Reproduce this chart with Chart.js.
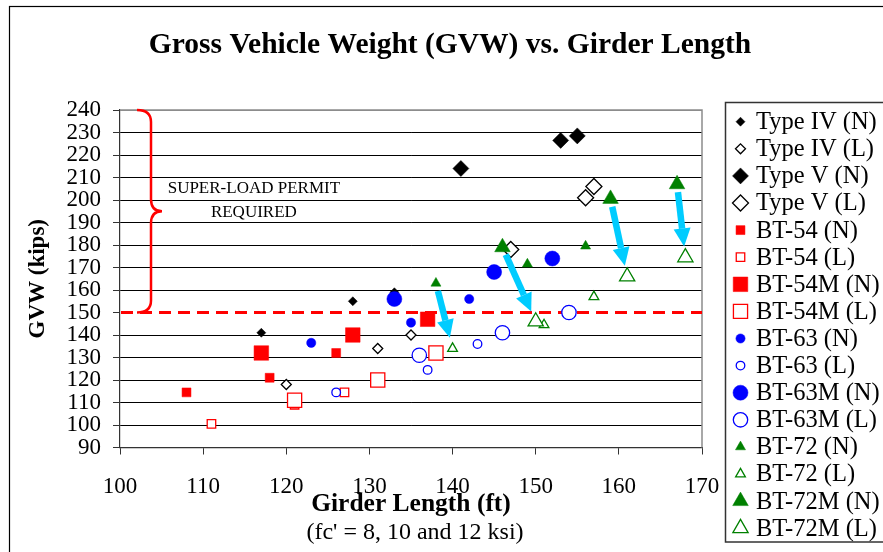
<!DOCTYPE html>
<html>
<head>
<meta charset="utf-8">
<script src="https://cdn.jsdelivr.net/npm/chart.js@4.4.1/dist/chart.umd.min.js"></script>
<style>
  body { margin: 0; background: #fff; }
  #wrap { width: 883px; height: 552px; }
</style>
</head>
<body>
<div id="wrap"><canvas id="myChart" width="883" height="552"></canvas></div>
<script>
// girder length (ft), GVW (kips)
const typeIV_N = [[117, 141], [128, 155], [133, 159]];
const typeIV_L = [[120, 118], [131, 134], [135, 140]];
const typeV_N = [[141, 214], [153, 226.5], [155, 228.5]];
const typeV_L = [[147, 178], [156, 201], [157, 206]];
const bt54_N = [[108, 114.5], [118, 121], [126, 132]];
const bt54_L = [[111, 100.5], [121, 109], [127, 114.5]];
const bt54M_N = [[117, 132], [128, 140], [137, 147]];
const bt54M_L = [[121, 111], [131, 120], [138, 132]];
const bt63_N = [[123, 136.5], [135, 145.5], [142, 156]];
const bt63_L = [[126, 114.5], [137, 124.5], [143, 136]];
const bt63M_N = [[133, 156], [145, 168], [152, 174]];
const bt63M_L = [[136, 131], [146, 141], [154, 150]];
const bt72_N = [[138, 163], [149, 171.5], [156, 179.5]];
const bt72_L = [[140, 134], [151, 144.5], [157, 157]];
const bt72M_N = [[146, 179], [159, 200.5], [167, 207]];
const bt72M_L = [[150, 146], [161, 166], [168, 174.5]];

const permitLimit = 150;
const xTicks = [100, 170, 10];
const yTicks = [90, 240, 10];

// from (N) series point -> (L) series point
const arrows = [
  ["BT-72 (N)", "BT-72 (L)", 0],
  ["BT-72M (N)", "BT-72M (L)", 0],
  ["BT-72M (N)", "BT-72M (L)", 1],
  ["BT-72M (N)", "BT-72M (L)", 2]
];

const FONT = "'Liberation Serif', 'Times New Roman', serif";
Chart.defaults.color = "#000";
Chart.defaults.font.family = FONT;

function makeSet(label, pts, color, style, r, filled) {
  return {
    label: label,
    data: pts.map(p => ({x: p[0], y: p[1]})),
    pointStyle: style,
    pointRadius: r,
    pointHoverRadius: r,
    borderColor: color,
    backgroundColor: filled ? color : "#fff",
    pointBorderWidth: filled ? 0.5 : 1.3,
    showLine: false
  };
}

const datasets = [
  makeSet("Type IV (N)", typeIV_N, "#000", "rectRot", 4.5, true),
  makeSet("Type IV (L)", typeIV_L, "#000", "rectRot", 5, false),
  makeSet("Type V (N)", typeV_N, "#000", "rectRot", 8, true),
  makeSet("Type V (L)", typeV_L, "#000", "rectRot", 8, false),
  makeSet("BT-54 (N)", bt54_N, "#ff0000", "rect", 6.3, true),
  makeSet("BT-54 (L)", bt54_L, "#ff0000", "rect", 6, false),
  makeSet("BT-54M (N)", bt54M_N, "#ff0000", "rect", 10.3, true),
  makeSet("BT-54M (L)", bt54M_L, "#ff0000", "rect", 10, false),
  makeSet("BT-63 (N)", bt63_N, "#0000ff", "circle", 4.6, true),
  makeSet("BT-63 (L)", bt63_L, "#0000ff", "circle", 4.3, false),
  makeSet("BT-63M (N)", bt63M_N, "#0000ff", "circle", 7.5, true),
  makeSet("BT-63M (L)", bt63M_L, "#0000ff", "circle", 7.2, false),
  makeSet("BT-72 (N)", bt72_N, "#008000", "triangle", 5.8, true),
  makeSet("BT-72 (L)", bt72_L, "#008000", "triangle", 5.6, false),
  makeSet("BT-72M (N)", bt72M_N, "#008000", "triangle", 9, true),
  makeSet("BT-72M (L)", bt72M_L, "#008000", "triangle", 8.8, false)
];
// later series drawn on top, like the original
datasets.forEach((d, i) => { d.order = datasets.length - i; });

const decorations = {
  id: "decorations",
  beforeDraw(chart) {
    const ctx = chart.ctx;
    ctx.save();
    ctx.fillStyle = "#fff";
    ctx.fillRect(0, 0, chart.width, chart.height);
    ctx.restore();
  },
  beforeDatasetsDraw(chart) {
    const {ctx, chartArea: a, scales: {x, y}} = chart;
    ctx.save();
    // plot frame top/right
    ctx.strokeStyle = "#8c8c8c";
    ctx.lineWidth = 1.5;
    ctx.beginPath();
    ctx.moveTo(a.left, a.top);
    ctx.lineTo(a.right, a.top);
    ctx.lineTo(a.right, a.bottom);
    ctx.stroke();

    // permit limit
    const yl = y.getPixelForValue(permitLimit);
    ctx.strokeStyle = "#ff0000";
    ctx.lineWidth = 3;
    ctx.setLineDash([12, 7]);
    ctx.beginPath();
    ctx.moveTo(a.left + 1, yl);
    ctx.lineTo(a.right, yl);
    ctx.stroke();
    ctx.setLineDash([]);

    // brace
    const yt = y.getPixelForValue(yTicks[1]);
    const ym = (yt + yl) / 2;
    const x0 = a.left + 17, x1 = a.left + 31, xt = a.left + 42;
    ctx.lineWidth = 2.5;
    ctx.beginPath();
    ctx.moveTo(x0, yt);
    ctx.quadraticCurveTo(x1, yt, x1, yt + 12);
    ctx.lineTo(x1, ym - 12);
    ctx.quadraticCurveTo(x1, ym, xt, ym);
    ctx.quadraticCurveTo(x1, ym, x1, ym + 12);
    ctx.lineTo(x1, yl - 12);
    ctx.quadraticCurveTo(x1, yl, x0, yl);
    ctx.stroke();

    ctx.fillStyle = "#000";
    ctx.font = "17px " + FONT;
    ctx.textAlign = "center";
    ctx.textBaseline = "middle";
    ctx.fillText("SUPER-LOAD PERMIT", x.getPixelForValue(116.1), y.getPixelForValue(205));
    ctx.fillText("REQUIRED", x.getPixelForValue(116.1), y.getPixelForValue(194.6));
    ctx.restore();
  },
  afterDatasetsDraw(chart) {
    const ctx = chart.ctx;
    ctx.save();
    ctx.fillStyle = "#00ccff";
    ctx.strokeStyle = "#00ccff";
    arrows.forEach(([from, to, k]) => {
      const i0 = datasets.findIndex(d => d.label === from);
      const i1 = datasets.findIndex(d => d.label === to);
      const p0 = chart.getDatasetMeta(i0).data[k];
      const p1 = chart.getDatasetMeta(i1).data[k];
      const dx = p1.x - p0.x, dy = p1.y - p0.y;
      const len = Math.hypot(dx, dy);
      const ux = dx / len, uy = dy / len;
      const sx = p0.x + ux * 8, sy = p0.y + uy * 8;
      const ex = p1.x - ux * 11, ey = p1.y - uy * 11;
      const head = 18, half = 8.5;
      const bx = ex - ux * head, by = ey - uy * head;
      ctx.lineWidth = 6.5;
      ctx.beginPath();
      ctx.moveTo(sx, sy);
      ctx.lineTo(bx, by);
      ctx.stroke();
      ctx.beginPath();
      ctx.moveTo(ex, ey);
      ctx.lineTo(bx - uy * half, by + ux * half);
      ctx.lineTo(bx + uy * half, by - ux * half);
      ctx.closePath();
      ctx.fill();
    });
    ctx.restore();
  },
  afterDraw(chart) {
    const {ctx, chartArea: a} = chart;
    ctx.save();
    // outer frame
    ctx.strokeStyle = "#000";
    ctx.lineWidth = 1.2;
    ctx.strokeRect(9.5, 6.5, 1000, 1000);

    // subtitle under x axis title
    ctx.fillStyle = "#000";
    ctx.font = "24px " + FONT;
    ctx.textAlign = "center";
    ctx.textBaseline = "middle";
    ctx.fillText("(fc' = 8, 10 and 12 ksi)", (a.left + a.right) / 2 + 4, 533);

    // legend
    const lx = 725.5, ly = 102.5;
    ctx.strokeStyle = "#333";
    ctx.lineWidth = 1.5;
    ctx.strokeRect(lx, ly, 300, 439.5);
    ctx.font = "24.5px " + FONT;
    ctx.textAlign = "left";
    datasets.forEach((d, i) => {
      const cy = 121.7 + i * 27.1;
      ctx.fillStyle = d.backgroundColor;
      ctx.strokeStyle = d.borderColor;
      ctx.lineWidth = d.pointBorderWidth;
      Chart.helpers.drawPoint(ctx, {
        pointStyle: d.pointStyle,
        radius: d.pointRadius,
        borderWidth: d.pointBorderWidth,
        rotation: 0
      }, 740.5, cy);
      ctx.fillStyle = "#000";
      ctx.fillText(d.label, 756, cy + 1);
    });
    ctx.restore();
  }
};

const ctx = document.getElementById("myChart").getContext("2d");
const myChart = new Chart(ctx, {
  type: "scatter",
  data: { datasets: datasets },
  options: {
    responsive: false,
    animation: false,
    events: [],
    layout: { padding: { left: 17, right: 0, top: 0, bottom: 0 } },
    plugins: {
      legend: { display: false },
      tooltip: { enabled: false },
      title: {
        display: true,
        text: "Gross Vehicle Weight (GVW) vs. Girder Length",
        color: "#000",
        font: { family: FONT, size: 29.5, weight: "bold", lineHeight: 1.2 },
        padding: { top: 27.3, bottom: 47.3 }
      }
    },
    scales: {
      x: {
        type: "linear",
        min: xTicks[0],
        max: xTicks[1],
        ticks: { stepSize: xTicks[2], autoSkip: false, font: { size: 23 }, padding: 19, color: "#000" },
        grid: { drawOnChartArea: false, drawTicks: true, tickLength: 7, color: "#333" },
        border: { color: "#333", width: 1.2 },
        title: {
          display: true,
          text: "Girder Length (ft)",
          font: { size: 25.5, weight: "bold", lineHeight: 1.2 },
          padding: { top: 0, bottom: 32 }
        },
        afterFit: s => { s.height = 104.5; }
      },
      y: {
        type: "linear",
        min: yTicks[0],
        max: yTicks[1],
        ticks: { stepSize: yTicks[2], autoSkip: false, font: { size: 23 }, padding: 12, color: "#000" },
        grid: {
          color: c => {
            if (!c.tick) return "#000";
            if (c.tick.value === yTicks[1]) return "#8c8c8c";
            if (c.tick.value === permitLimit) return "rgba(0,0,0,0)";
            return "#000";
          },
          lineWidth: 1,
          tickLength: 7,
          tickColor: "#333"
        },
        border: { color: "#333", width: 1.2 },
        title: {
          display: true,
          text: "GVW (kips)",
          font: { size: 23, weight: "bold", lineHeight: 1.2 },
          padding: { top: 7, bottom: 0 }
        },
        afterFit: s => { s.width = 103; }
      },
      yRight: {
        type: "linear",
        position: "right",
        display: true,
        ticks: { display: false },
        grid: { display: false },
        border: { display: false },
        afterFit: s => { s.width = 181; }
      }
    }
  },
  plugins: [decorations]
});
</script>
</body>
</html>
